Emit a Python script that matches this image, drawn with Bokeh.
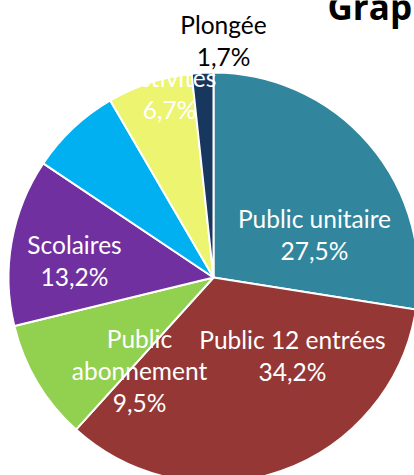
from math import pi
from bokeh.plotting import figure
from bokeh.models import Range1d, ColumnDataSource
from bokeh.core.properties import value
from bokeh.embed import file_html
from bokeh.resources import INLINE

# ---- data ----
categories = ["Public unitaire", "Public 12 entrées", "Public abonnement",
              "Scolaires", "Autres", "Activités", "Plongée"]
shares = [27.5, 34.2, 9.5, 13.2, 7.2, 6.7, 1.7]
colors = ["#31859C", "#953735", "#92D050", "#7030A0", "#00B0F0", "#ECF470", "#17375E"]
title_text = "Grap"

# ---- layout (pixel units, origin bottom-left) ----
W, H = 414, 475
CX, CY, R = 213, H - 277, 205
TEXT_SHIFT = 9  # baseline correction for text rendering

p = figure(width=W, height=H, x_range=Range1d(0, W), y_range=Range1d(0, H),
           output_backend="svg", toolbar_location=None, min_border=0)
p.axis.visible = False
p.grid.visible = False
p.outline_line_color = None
p.background_fill_color = "white"

total = sum(shares)
starts, ends = [], []
cum = 0.0
for v in shares:
    starts.append(pi / 2 - 2 * pi * cum / total)
    cum += v
    ends.append(pi / 2 - 2 * pi * cum / total)

src = ColumnDataSource(dict(start=starts, end=ends, color=colors, cat=categories))
p.wedge(x=CX, y=CY, radius=R, start_angle="start", end_angle="end",
        direction="clock", fill_color="color", line_color="white",
        line_width=2, source=src)

def pct(v):
    return f"{v:.1f}".replace(".", ",") + "%"

# label layout: centre x, first baseline y (from top), colour, name lines
label_layout = {
    "Public unitaire": (314, 227, "white", ["Public unitaire"]),
    "Public 12 entrées": (292, 348, "white", ["Public 12 entrées"]),
    "Public abonnement": (139, 347, "white", ["Public", "abonnement"]),
    "Scolaires": (74, 253, "white", ["Scolaires"]),
    "Activités": (169, 86, "white", ["Activités"]),
    "Plongée": (223, 33, "black", ["Plongée"]),
}
LINE = 32
xs, ys, texts, tcols = [], [], [], []
for cat, v in zip(categories, shares):
    if cat not in label_layout:
        continue
    lx, ly, col, lines = label_layout[cat]
    for i, t in enumerate(lines + [pct(v)]):
        xs.append(lx)
        ys.append(H - (ly + i * LINE) + TEXT_SHIFT)
        texts.append(t)
        tcols.append(col)

lsrc = ColumnDataSource(dict(x=xs, y=ys, text=texts, color=tcols))
p.text(x="x", y="y", text="text", text_color="color", source=lsrc,
       text_font=value("Lato"), text_font_size="24.5px",
       text_align="center", text_baseline="alphabetic")

p.text(x=[327], y=[H - 15 + TEXT_SHIFT], text=[title_text], text_color="black",
       text_font=value("Open Sans"), text_font_size="35px", text_font_style="bold",
       text_align="left", text_baseline="alphabetic")

open("out.html", "w").write(file_html(p, INLINE))
